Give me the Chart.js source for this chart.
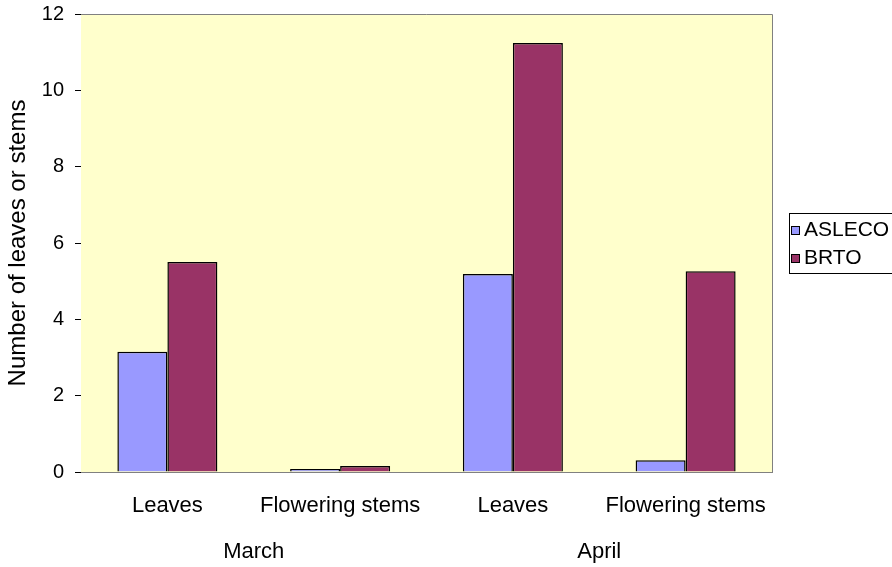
<!DOCTYPE html>
<html>
<head>
<meta charset="utf-8">
<script src="https://cdn.jsdelivr.net/npm/chart.js@4/dist/chart.umd.min.js"></script>
<style>
  html, body { margin: 0; padding: 0; background: #ffffff; overflow: hidden; }
  #wrap { width: 892px; height: 567px; position: relative; }
</style>
</head>
<body>
<div id="wrap"><canvas id="c" width="892" height="567"></canvas></div>
<script>
// Counts per plant part, grouped by survey month
const categories = ['Leaves', 'Flowering stems', 'Leaves', 'Flowering stems'];
const months = ['March', 'April'];
const seriesNames = ['ASLECO', 'BRTO'];
const aslecoValues = [3.15, 0.08, 5.19, 0.31];
const brtoValues = [5.50, 0.16, 11.24, 5.26];
const yTickValues = [0, 2, 4, 6, 8, 10, 12];

const FONT = "'Liberation Sans', Arial, sans-serif";

// Yellow plot area with a grey frame on the top and right sides
const plotFrame = {
  id: 'plotFrame',
  beforeDatasetsDraw(chart) {
    const { ctx, chartArea: a } = chart;
    ctx.save();
    ctx.fillStyle = '#FFFFCC';
    ctx.fillRect(a.left, a.top, a.right - a.left, a.bottom - a.top);
    ctx.strokeStyle = '#808080';
    ctx.lineWidth = 1;
    ctx.beginPath();
    ctx.moveTo(a.left, Math.round(a.top) + 0.5);
    ctx.lineTo(Math.round(a.right) + 0.5, Math.round(a.top) + 0.5);
    ctx.lineTo(Math.round(a.right) + 0.5, a.bottom);
    ctx.stroke();
    ctx.restore();
  }
};

// Boxed legend to the right of the plot, centred on the plot height
const boxLegend = {
  id: 'boxLegend',
  afterDraw(chart) {
    const { ctx, chartArea: a } = chart;
    const h = 60;
    const x = 789.5;
    const y = Math.round((a.top + a.bottom) / 2 - h / 2) + 0.5;
    ctx.save();
    ctx.fillStyle = '#ffffff';
    ctx.fillRect(x, y, 140, h);
    ctx.strokeStyle = '#000000';
    ctx.lineWidth = 1;
    ctx.strokeRect(x, y, 140, h);
    ctx.font = '21px ' + FONT;
    ctx.textBaseline = 'middle';
    chart.data.datasets.forEach((ds, i) => {
      const cy = y + 16 + i * 28;
      const sy = Math.round(cy - 4) + 0.5;
      ctx.fillStyle = ds.backgroundColor;
      ctx.fillRect(791.5, sy, 8, 8);
      ctx.strokeStyle = '#000000';
      ctx.strokeRect(791.5, sy, 8, 8);
      ctx.fillStyle = '#000000';
      ctx.fillText(ds.label, 804, cy + 1);
    });
    ctx.restore();
  }
};

// Fixed label room so the plot area keeps its place
function noOverflow(scale) {
  scale.paddingTop = 0;
  scale.paddingBottom = 0;
  scale.paddingLeft = 0;
  scale.paddingRight = 0;
}

new Chart(document.getElementById('c'), {
  type: 'bar',
  data: {
    labels: categories,
    datasets: [
      {
        label: seriesNames[0],
        data: aslecoValues,
        backgroundColor: '#9999FF',
        borderColor: '#000000',
        borderWidth: 1.5,
        xAxisID: 'x'
      },
      {
        label: seriesNames[1],
        data: brtoValues,
        backgroundColor: '#993366',
        borderColor: '#000000',
        borderWidth: 1.5,
        xAxisID: 'x'
      }
    ]
  },
  options: {
    responsive: false,
    animation: false,
    devicePixelRatio: 1,
    layout: { padding: { left: 0, top: 14, right: 120, bottom: 0 } },
    datasets: { bar: { barPercentage: 1, categoryPercentage: 0.579 } },
    plugins: {
      legend: { display: false },
      tooltip: { enabled: false },
      title: { display: false }
    },
    scales: {
      y: {
        min: 0,
        max: 12,
        afterFit(scale) { scale.width = 81; noOverflow(scale); },
        afterBuildTicks(scale) { scale.ticks = yTickValues.map(v => ({ value: v })); },
        grid: { drawOnChartArea: false, drawTicks: true, tickLength: 6, color: '#000000' },
        border: { display: true, color: '#000000', width: 1 },
        ticks: { font: { family: FONT, size: 20 }, color: '#000000', padding: 11 },
        title: {
          display: true,
          text: 'Number of leaves or stems',
          font: { family: FONT, size: 24 },
          color: '#000000',
          padding: { top: 4, bottom: 0 }
        }
      },
      x: {
        type: 'category',
        position: 'bottom',
        weight: 0,
        afterFit(scale) { scale.height = 48; noOverflow(scale); },
        grid: { display: false, drawTicks: false },
        border: { display: true, color: '#808080', width: 1 },
        ticks: { font: { family: FONT, size: 22 }, color: '#000000', padding: 21, maxRotation: 0, autoSkip: false }
      },
      x2: {
        type: 'category',
        labels: months,
        offset: true,
        position: 'bottom',
        weight: 1,
        afterFit(scale) { scale.height = 47; noOverflow(scale); },
        grid: { display: false, drawTicks: false },
        border: { display: false },
        ticks: { font: { family: FONT, size: 22 }, color: '#000000', padding: 19, maxRotation: 0, autoSkip: false }
      }
    }
  },
  plugins: [plotFrame, boxLegend]
});
</script>
</body>
</html>
